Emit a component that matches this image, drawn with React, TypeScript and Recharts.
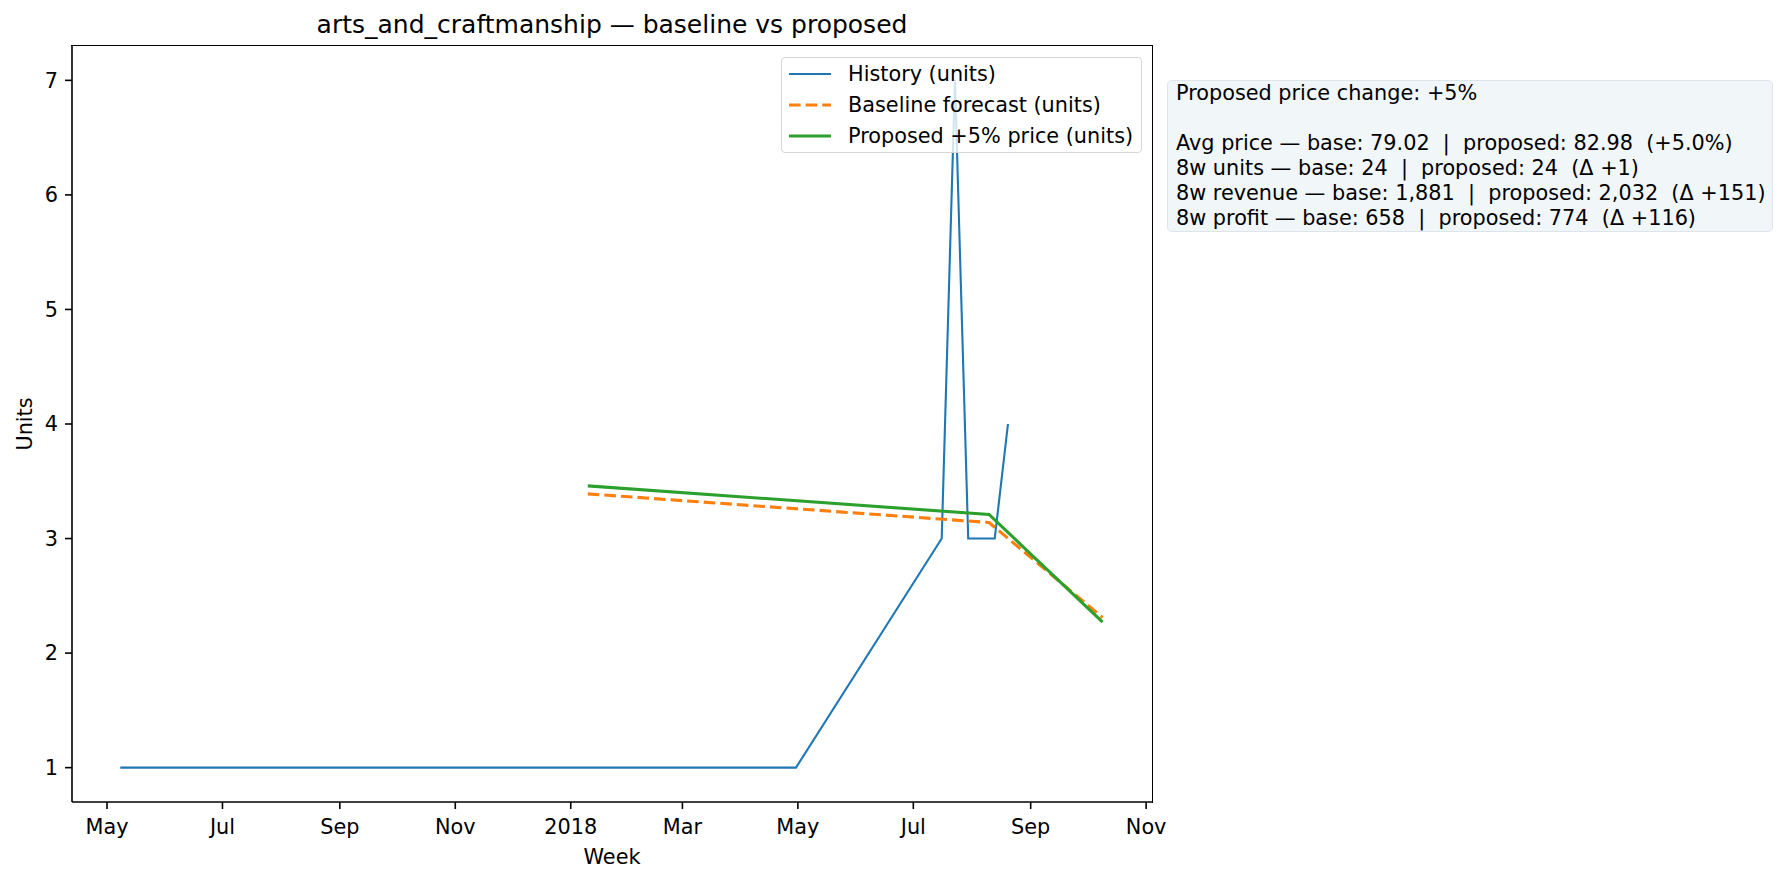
import React from 'react';
import { LineChart, Line, XAxis, YAxis, Label } from 'recharts';

// weekly history (only weeks that sold something), Monday dates
const historyDates = ['2017-05-08', '2018-04-30', '2018-07-16', '2018-07-23', '2018-07-30', '2018-08-13', '2018-08-20'];
const historyUnits = [1, 1, 3, 7, 3, 3, 4];

const forecastDates = ['2018-01-10', '2018-08-10', '2018-10-09'];
const baselineUnits = [3.39, 3.14, 2.31];
const proposedUnits = [3.46, 3.21, 2.27];

const xTickDates = ['2017-05-01', '2017-07-01', '2017-09-01', '2017-11-01', '2018-01-01', '2018-03-01', '2018-05-01', '2018-07-01', '2018-09-01', '2018-11-01'];
const xTickLabels = ['May', 'Jul', 'Sep', 'Nov', '2018', 'Mar', 'May', 'Jul', 'Sep', 'Nov'];
const yTicks = [1, 2, 3, 4, 5, 6, 7];

const seriesNames = ['History (units)', 'Baseline forecast (units)', 'Proposed +5% price (units)'];
const seriesColors = ['#1f77b4', '#ff7f0e', '#2ca02c'];

const noteLines = [
  'Proposed price change: +5%',
  '',
  'Avg price \u2014 base: 79.02  |  proposed: 82.98  (+5.0%)',
  '8w units \u2014 base: 24  |  proposed: 24  (\u0394 +1)',
  '8w revenue \u2014 base: 1,881  |  proposed: 2,032  (\u0394 +151)',
  '8w profit \u2014 base: 658  |  proposed: 774  (\u0394 +116)',
];

const toTs = (d: string) => Date.parse(d + 'T00:00:00Z');
const DAY = 86400000;

const historyData = historyDates.map((d, i) => ({ t: toTs(d), units: historyUnits[i] }));
const baselineData = forecastDates.map((d, i) => ({ t: toTs(d), units: baselineUnits[i] }));
const proposedData = forecastDates.map((d, i) => ({ t: toTs(d), units: proposedUnits[i] }));
const xTicks = xTickDates.map(toTs);
const X_DOMAIN = [toTs('2017-04-12') + DAY / 2, toTs('2018-11-04') + DAY / 10];

const FONT = '"DejaVu Sans", sans-serif';
const tickStyle = { fontSize: 20.8, fill: '#000', fontFamily: FONT };
const DASH = '11.6 5';

export default function App() {
  return (
    <div style={{ position: 'absolute', left: 0, top: 0, width: 1779, height: 881, background: '#fff', fontFamily: FONT }}>
      <div style={{ position: 'absolute', left: 72, top: 12, width: 1080, textAlign: 'center', fontSize: 25, lineHeight: '25px', color: '#000' }}>
        arts_and_craftmanship — baseline vs proposed
      </div>
      <LineChart width={1779} height={881} margin={{ top: 46, right: 627, bottom: 0, left: 0 }}>
        <XAxis
          dataKey="t"
          type="number"
          scale="time"
          domain={X_DOMAIN}
          ticks={xTicks}
          tickFormatter={(v: number) => xTickLabels[xTicks.indexOf(v)] ?? ''}
          allowDataOverflow
          height={79}
          tick={tickStyle}
          tickSize={7}
          tickMargin={10}
          stroke="#000"
          strokeWidth={1.6}
          interval={0}
        >
          <Label content={() => <text x={612} y={857} textAnchor="middle" dominantBaseline="central" style={tickStyle}>Week</text>} />
        </XAxis>
        <YAxis
          type="number"
          domain={[0.7, 7.3]}
          ticks={yTicks}
          allowDataOverflow
          width={72}
          tick={tickStyle}
          tickSize={7}
          tickMargin={7}
          stroke="#000"
          strokeWidth={1.6}
          interval={0}
        >
          <Label content={() => <text x={25} y={424} transform="rotate(-90 25 424)" textAnchor="middle" dominantBaseline="central" style={tickStyle}>Units</text>} />
        </YAxis>
        <Line data={historyData} dataKey="units" type="linear" stroke={seriesColors[0]} strokeWidth={2.1} dot={false} isAnimationActive={false} name={seriesNames[0]} />
        <Line data={baselineData} dataKey="units" type="linear" stroke={seriesColors[1]} strokeWidth={3.1} strokeDasharray={DASH} dot={false} isAnimationActive={false} name={seriesNames[1]} />
        <Line data={proposedData} dataKey="units" type="linear" stroke={seriesColors[2]} strokeWidth={3.1} dot={false} isAnimationActive={false} name={seriesNames[2]} />
      </LineChart>

      {/* top and right spines */}
      <div style={{ position: 'absolute', left: 71.2, top: 45.2, width: 1081.6, height: 757.6, boxSizing: 'border-box', borderTop: '1.6px solid #000', borderRight: '1.6px solid #000', pointerEvents: 'none' }} />

      {/* legend, upper right inside the axes */}
      <div style={{ position: 'absolute', left: 781, top: 57, width: 359, height: 94, border: '1.5px solid #d6d6d6', borderRadius: 4, background: 'rgba(255,255,255,0.8)', fontSize: 20.8, color: '#000' }}>
        {seriesNames.map((name, i) => (
          <div key={name} style={{ position: 'absolute', left: 6, top: 2 + i * 30.8, height: 28, display: 'flex', alignItems: 'center', whiteSpace: 'nowrap' }}>
            <svg width={44} height={10} style={{ marginRight: 16 }}>
              <line x1={1} y1={5} x2={43} y2={5} stroke={seriesColors[i]} strokeWidth={i === 0 ? 2.1 : 3.1} strokeDasharray={i === 1 ? DASH : undefined} />
            </svg>
            <span>{name}</span>
          </div>
        ))}
      </div>

      {/* summary box */}
      <div style={{ position: 'absolute', left: 1167, top: 80, padding: '0 6px 0 8px', border: '1.5px solid #dde5ea', borderRadius: 5, background: '#f1f6f9', fontSize: 20.8, lineHeight: '25px', color: '#000', whiteSpace: 'pre' }}>
        {noteLines.map((l, i) => (
          <div key={i} style={{ height: 25 }}>{l}</div>
        ))}
      </div>
    </div>
  );
}
